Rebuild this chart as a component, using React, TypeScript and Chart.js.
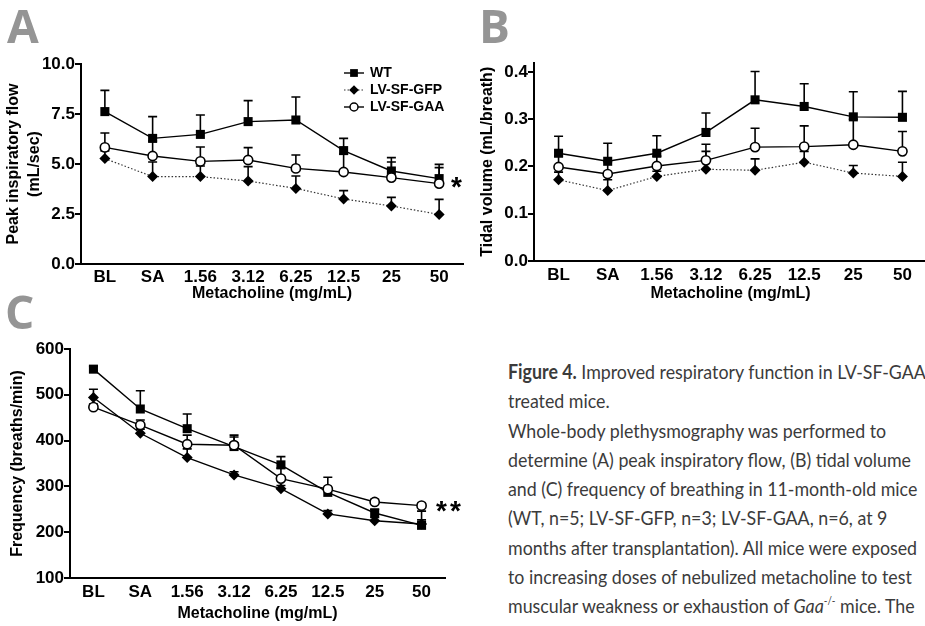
import React, { useEffect, useLayoutEffect, useRef } from 'react';
import { Chart, registerables } from 'chart.js';

Chart.register(...registerables);

// ---------- data ----------
const categories = ['BL', 'SA', '1.56', '3.12', '6.25', '12.5', '25', '50'];
const seriesLabels = ['WT', 'LV-SF-GFP', 'LV-SF-GAA'];

// Panel A: peak inspiratory flow (mL/sec), mean and mean+SEM
const wtFlow = [7.62, 6.28, 6.48, 7.12, 7.2, 5.67, 4.65, 4.27];
const wtFlowUpper = [8.68, 7.37, 7.45, 8.17, 8.35, 6.28, 5.32, 4.98];
const gfpFlow = [5.27, 4.37, 4.37, 4.15, 3.78, 3.25, 2.9, 2.48];
const gfpFlowUpper = [5.65, 5.1, 4.9, 4.87, 4.4, 3.67, 3.33, 3.23];
const gaaFlow = [5.83, 5.4, 5.13, 5.2, 4.78, 4.6, 4.32, 4.02];
const gaaFlowUpper = [6.55, 6.15, 5.85, 5.82, 5.45, 5.5, 5.1, 4.82];
const flowTicks = [0, 2.5, 5, 7.5, 10];

// Panel B: tidal volume (mL/breath)
const wtVolume = [0.228, 0.211, 0.228, 0.272, 0.341, 0.327, 0.305, 0.304];
const wtVolumeUpper = [0.264, 0.249, 0.265, 0.313, 0.401, 0.375, 0.358, 0.359];
const gfpVolume = [0.172, 0.149, 0.179, 0.194, 0.192, 0.209, 0.186, 0.179];
const gfpVolumeUpper = [0.188, 0.172, 0.19, 0.232, 0.216, 0.232, 0.202, 0.209];
const gaaVolume = [0.199, 0.184, 0.201, 0.213, 0.241, 0.242, 0.246, 0.232];
const gaaVolumeUpper = [0.222, 0.21, 0.222, 0.247, 0.281, 0.286, 0.3, 0.274];
const volumeTicks = [0, 0.1, 0.2, 0.3, 0.4];

// Panel C: frequency (breaths/min)
const wtFrequency = [556, 469, 426, 387, 347, 287, 242, 215];
const wtFrequencyUpper = [562, 509, 458, 412, 365, 296, 250, 246];
const gfpFrequency = [494, 416, 363, 325, 295, 240, 225, 218];
const gfpFrequencyUpper = [512, 425, 382, 332, 302, 247, 232, 227];
const gaaFrequency = [473, 434, 392, 390, 317, 294, 266, 258];
const gaaFrequencyUpper = [480, 445, 412, 408, 340, 320, 272, 263];
const frequencyTicks = [100, 200, 300, 400, 500, 600];

// ---------- styling helpers ----------
const AX_FONT = "'Liberation Sans', Arial, Helvetica, sans-serif";

function drawMarker(ctx: CanvasRenderingContext2D, style: string, x: number, y: number, r: number) {
  ctx.save();
  ctx.beginPath();
  if (style === 'rect') {
    const h = r * Math.SQRT1_2;
    ctx.rect(x - h, y - h, 2 * h, 2 * h);
    ctx.fillStyle = '#000';
    ctx.fill();
  } else if (style === 'rectRot') {
    ctx.moveTo(x, y - r);
    ctx.lineTo(x + r, y);
    ctx.lineTo(x, y + r);
    ctx.lineTo(x - r, y);
    ctx.closePath();
    ctx.fillStyle = '#000';
    ctx.fill();
  } else {
    ctx.arc(x, y, r, 0, Math.PI * 2);
    ctx.fillStyle = '#fff';
    ctx.fill();
    ctx.lineWidth = 1.5;
    ctx.strokeStyle = '#000';
    ctx.stroke();
  }
  ctx.restore();
}

const errorBarPlugin = {
  id: 'errorBars',
  beforeDatasetsDraw(chart: any) {
    const ctx: CanvasRenderingContext2D = chart.ctx;
    const yScale = chart.scales.y;
    chart.data.datasets.forEach((ds: any, i: number) => {
      if (!ds.errorHigh) return;
      const meta = chart.getDatasetMeta(i);
      ctx.save();
      ctx.strokeStyle = '#000';
      ctx.lineWidth = 1.6;
      meta.data.forEach((pt: any, j: number) => {
        const hi = ds.errorHigh[j];
        if (hi == null) return;
        const x = pt.x;
        const y1 = yScale.getPixelForValue(hi);
        ctx.beginPath();
        ctx.moveTo(x, pt.y);
        ctx.lineTo(x, y1);
        ctx.moveTo(x - 4.5, y1);
        ctx.lineTo(x + 4.5, y1);
        ctx.stroke();
      });
      ctx.restore();
    });
  },
};

const insetLegendPlugin = {
  id: 'insetLegend',
  afterDraw(chart: any) {
    const o = chart.options.plugins.insetLegend;
    if (!o || !o.show) return;
    const ctx: CanvasRenderingContext2D = chart.ctx;
    chart.data.datasets.forEach((ds: any, i: number) => {
      const y = o.y + i * o.gap;
      ctx.save();
      ctx.strokeStyle = ds.borderColor;
      ctx.lineWidth = ds.borderWidth;
      ctx.setLineDash(ds.borderDash || []);
      ctx.beginPath();
      ctx.moveTo(o.x, y);
      ctx.lineTo(o.x + 20, y);
      ctx.stroke();
      ctx.restore();
      drawMarker(ctx, ds.pointStyle, o.x + 10, y, ds.pointStyle === 'circle' ? 4 : ds.pointStyle === 'rect' ? 5.5 : 4.8);
      ctx.save();
      ctx.fillStyle = '#000';
      ctx.font = `bold 14px ${AX_FONT}`;
      ctx.textBaseline = 'middle';
      ctx.textAlign = 'left';
      ctx.fillText(ds.label, o.x + 26, y + 0.5);
      ctx.restore();
    });
  },
};

type Panel = {
  wt: number[]; wtUp: number[];
  gfp: number[]; gfpUp: number[];
  gaa: number[]; gaaUp: number[];
  ticks: number[]; min: number; max: number; decimals: number;
  yTitle: string | string[];
  yWidth: number; xHeight: number; padTop: number; padRight: number;
  yTitlePad: number; xTickPad: number; gfpDotted: boolean;
  legend?: { x: number; y: number; gap: number };
};

function makeConfig(p: Panel): any {
  const base = { borderColor: '#000', tension: 0, clip: false as any };
  return {
    type: 'line',
    data: {
      labels: categories,
      datasets: [
        {
          ...base, label: seriesLabels[0], data: p.wt, errorHigh: p.wtUp, borderWidth: 1.4,
          pointStyle: 'rect', pointRadius: 6.4, pointBackgroundColor: '#000', pointBorderColor: '#000', pointBorderWidth: 0,
          order: 1,
        },
        {
          ...base, label: seriesLabels[1], data: p.gfp, errorHigh: p.gfpUp,
          borderColor: p.gfpDotted ? '#333' : '#000', borderWidth: p.gfpDotted ? 1.2 : 1.4,
          borderDash: p.gfpDotted ? [1.5, 2] : [],
          pointStyle: 'rectRot', pointRadius: 5.5, pointBackgroundColor: '#000', pointBorderColor: '#000', pointBorderWidth: 0,
          order: 2,
        },
        {
          ...base, label: seriesLabels[2], data: p.gaa, errorHigh: p.gaaUp, borderWidth: 1.4,
          pointStyle: 'circle', pointRadius: 4.6, pointBackgroundColor: '#fff', pointBorderColor: '#000', pointBorderWidth: 1.6,
          order: 0,
        },
      ],
    },
    options: {
      animation: false,
      responsive: false,
      events: [],
      layout: { padding: { top: p.padTop, right: p.padRight, bottom: 0, left: 0 } },
      plugins: {
        legend: { display: false },
        tooltip: { enabled: false },
        insetLegend: p.legend ? { show: true, ...p.legend } : { show: false },
      },
      scales: {
        x: {
          type: 'category',
          offset: true,
          afterFit: (s: any) => { s.height = p.xHeight; },
          grid: { display: false, drawTicks: false, tickLength: 0 },
          border: { display: true, color: '#000', width: 2 },
          ticks: {
            color: '#000', autoSkip: false, maxRotation: 0, padding: p.xTickPad,
            font: { family: AX_FONT, size: 17, weight: 'bold' },
          },
          title: {
            display: true, text: 'Metacholine (mg/mL)', color: '#000',
            font: { family: AX_FONT, size: 16, weight: 'bold', lineHeight: 1.2 },
            padding: { top: 0, bottom: 0 },
          },
        },
        y: {
          type: 'linear',
          min: p.min, max: p.max,
          afterFit: (s: any) => { s.width = p.yWidth; },
          afterBuildTicks: (s: any) => { s.ticks = p.ticks.map((v) => ({ value: v })); },
          grid: { drawOnChartArea: false, drawTicks: true, tickLength: 6, color: '#000', lineWidth: 2 },
          border: { display: true, color: '#000', width: 2 },
          ticks: {
            color: '#000', padding: 0,
            font: { family: AX_FONT, size: 17, weight: 'bold' },
            callback: (v: any) => Number(v).toFixed(p.decimals),
          },
          title: {
            display: true, text: p.yTitle, color: '#000',
            font: { family: AX_FONT, size: 16, weight: 'bold', lineHeight: 1.3 },
            padding: { top: p.yTitlePad, bottom: 0 },
          },
        },
      },
    },
    plugins: [errorBarPlugin, insetLegendPlugin],
  };
}

const panelA: Panel = {
  wt: wtFlow, wtUp: wtFlowUpper, gfp: gfpFlow, gfpUp: gfpFlowUpper, gaa: gaaFlow, gaaUp: gaaFlowUpper,
  ticks: flowTicks, min: 0, max: 10, decimals: 1,
  yTitle: ['Peak inspiratory flow', '(mL/sec)'],
  yWidth: 81, xHeight: 39, padTop: 24, padRight: 7, yTitlePad: 3.5, xTickPad: 3, gfpDotted: true,
  legend: { x: 344, y: 33, gap: 17 },
};

const panelB: Panel = {
  wt: wtVolume, wtUp: wtVolumeUpper, gfp: gfpVolume, gfpUp: gfpVolumeUpper, gaa: gaaVolume, gaaUp: gaaVolumeUpper,
  ticks: volumeTicks, min: 0, max: 0.42, decimals: 1,
  yTitle: 'Tidal volume (mL/breath)',
  yWidth: 64, xHeight: 42, padTop: 22.5, padRight: 13, yTitlePad: 7.4, xTickPad: 4, gfpDotted: true,
};

const panelC: Panel = {
  wt: wtFrequency, wtUp: wtFrequencyUpper, gfp: gfpFrequency, gfpUp: gfpFrequencyUpper, gaa: gaaFrequency, gaaUp: gaaFrequencyUpper,
  ticks: frequencyTicks, min: 100, max: 600, decimals: 0,
  yTitle: 'Frequency (breaths/min)',
  yWidth: 70, xHeight: 45, padTop: 29, padRight: 15, yTitlePad: 7.4, xTickPad: 4, gfpDotted: false,
};

const letterStyle: React.CSSProperties = {
  position: 'absolute', margin: 0, fontFamily: "'Open Sans', 'Noto Sans', sans-serif", fontWeight: 700,
  fontSize: 46, lineHeight: '46px', color: '#959595',
};
const starStyle: React.CSSProperties = {
  position: 'absolute', margin: 0, fontFamily: AX_FONT, fontWeight: 700, fontSize: 28, lineHeight: '28px', color: '#000',
};
const canvasStyle: React.CSSProperties = { position: 'absolute', display: 'block' };

const captionLines: React.ReactNode[] = [
  <><b>Figure 4.</b> Improved respiratory function in LV-SF-GAA</>,
  'treated mice.',
  'Whole-body plethysmography was performed to',
  'determine (A) peak inspiratory flow, (B) tidal volume',
  'and (C) frequency of breathing in 11-month-old mice',
  '(WT, n=5; LV-SF-GFP, n=3; LV-SF-GAA, n=6, at 9',
  'months after transplantation). All mice were exposed',
  'to increasing doses of nebulized metacholine to test',
  <>muscular weakness or exhaustion of <i>Gaa</i><sup style={{ fontSize: '0.55em', lineHeight: 0, verticalAlign: '0.75em' }}>-/-</sup> mice. The</>,
];

export default function App() {
  const aRef = useRef<HTMLCanvasElement>(null);
  const bRef = useRef<HTMLCanvasElement>(null);
  const cRef = useRef<HTMLCanvasElement>(null);
  const capRef = useRef<HTMLDivElement>(null);
  const measureRef = useRef<HTMLSpanElement>(null);

  useLayoutEffect(() => {
    const el = capRef.current;
    const m = measureRef.current;
    if (!el || !m) return;
    const w = m.getBoundingClientRect().width;
    if (w > 0) el.style.transform = `scaleX(${403 / w})`;
  }, []);

  useEffect(() => {
    const charts = [
      new Chart(aRef.current as HTMLCanvasElement, makeConfig(panelA)),
      new Chart(bRef.current as HTMLCanvasElement, makeConfig(panelB)),
      new Chart(cRef.current as HTMLCanvasElement, makeConfig(panelC)),
    ];
    return () => charts.forEach((c) => c.destroy());
  }, []);

  return (
    <div style={{ position: 'fixed', left: 0, top: 0, width: 925, height: 626, overflow: 'hidden', background: '#fff' }}>
      <canvas ref={aRef} width={470} height={263} style={{ ...canvasStyle, left: 0, top: 40, width: 470, height: 263 }} />
      <canvas ref={bRef} width={470} height={263} style={{ ...canvasStyle, left: 470, top: 40, width: 470, height: 263 }} />
      <canvas ref={cRef} width={460} height={303} style={{ ...canvasStyle, left: 0, top: 320, width: 460, height: 303 }} />

      <div style={{ ...letterStyle, left: 7, top: 2 }}>A</div>
      <div style={{ ...letterStyle, left: 479, top: 2 }}>B</div>
      <div style={{ ...letterStyle, left: 5, top: 288 }}>C</div>

      <div style={{ ...starStyle, left: 451, top: 173 }}>*</div>
      <div style={{ ...starStyle, left: 436, top: 497, letterSpacing: 3 }}>**</div>

      <div
        ref={capRef}
        style={{
          position: 'absolute', left: 508, top: 357, whiteSpace: 'pre', color: '#3b3b3b',
          fontFamily: "Lato, 'Open Sans', sans-serif",
          fontSize: 20, lineHeight: '29.25px', transformOrigin: '0 0',
        }}
      >
        {captionLines.map((ln, i) => (
          <div key={i}>
            <span ref={i === 3 ? measureRef : undefined} style={{ display: 'inline-block' }}>{ln}</span>
          </div>
        ))}
      </div>
    </div>
  );
}
